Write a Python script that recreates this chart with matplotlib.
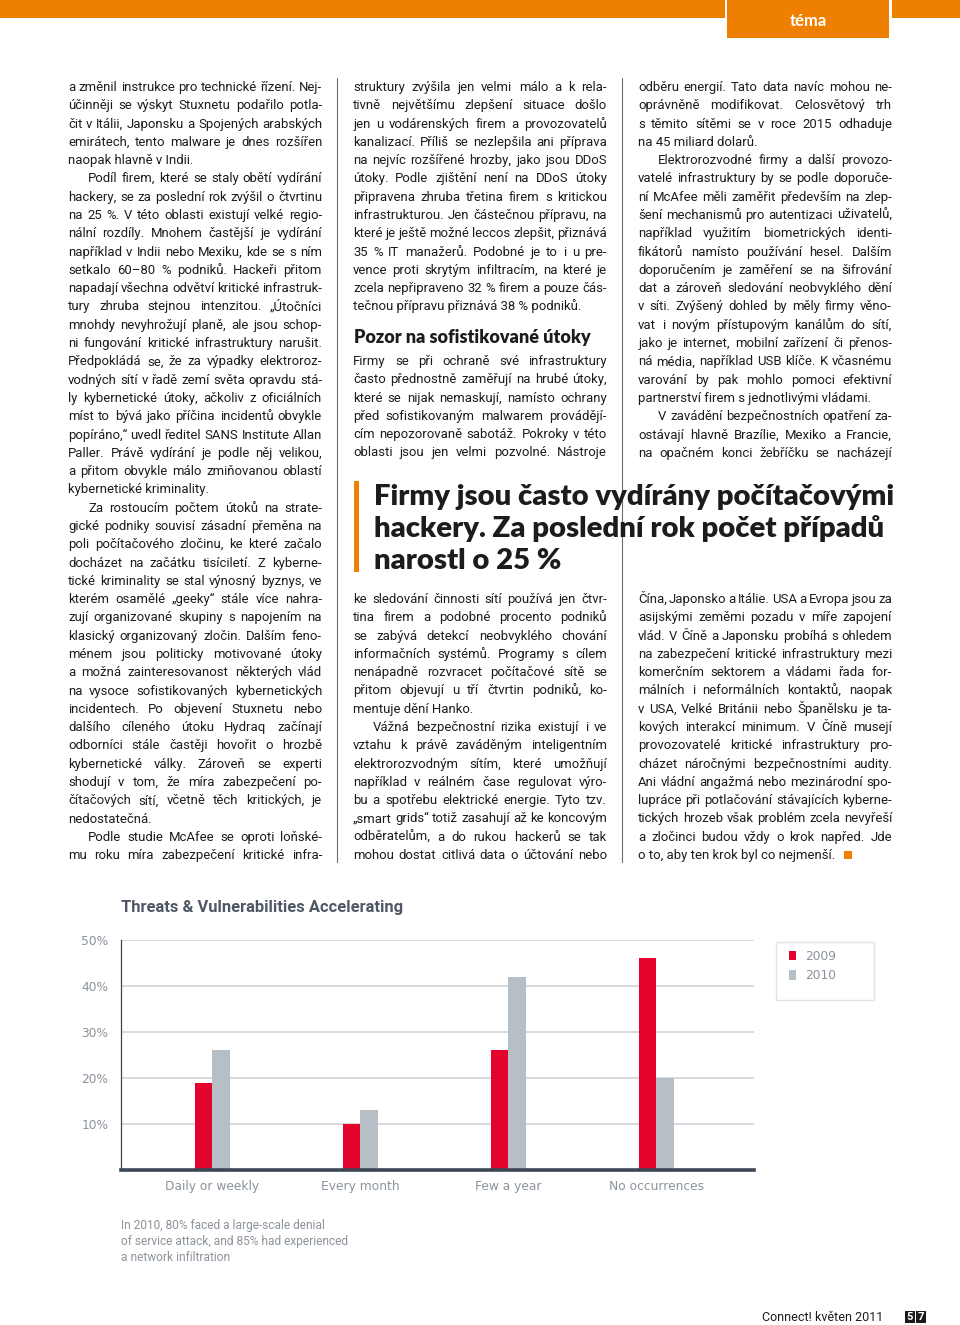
import matplotlib
matplotlib.use('Agg')
import numpy as np
import matplotlib.pyplot as plt
from matplotlib.font_manager import FontProperties
from matplotlib.patches import Rectangle

# --- chart data ---
categories = ['Daily or weekly', 'Every month', 'Few a year', 'No occurrences']
share_2009 = [19, 10, 26, 46]
share_2010 = [26, 13, 42, 20]
y_ticks = [10, 20, 30, 40, 50]
series_names = ['2009', '2010']
chart_title = 'Threats & Vulnerabilities Accelerating'
chart_note = ['In 2010, 80% faced a large-scale denial',
              'of service attack, and 85% had experienced',
              'a network infiltration']

# --- article text: (indented first line, lines, paragraph ends here) ---
col_left = [
    (False, ['a změnil instrukce pro technické řízení. Nej-',
             'účinněji se výskyt Stuxnetu podařilo potla-',
             'čit v Itálii, Japonsku a Spojených arabských',
             'emirátech, tento malware je dnes rozšířen',
             'naopak hlavně v Indii.'], True),
    (True, ['Podíl firem, které se staly obětí vydírání',
            'hackery, se za poslední rok zvýšil o čtvrtinu',
            'na 25 %. V této oblasti existují velké regio-',
            'nální rozdíly. Mnohem častější je vydírání',
            'například v Indii nebo Mexiku, kde se s ním',
            'setkalo 60–80 % podniků. Hackeři přitom',
            'napadají všechna odvětví kritické infrastruk-',
            'tury zhruba stejnou intenzitou. „Útočníci',
            'mnohdy nevyhrožují planě, ale jsou schop-',
            'ni fungování kritické infrastruktury narušit.',
            'Předpokládá se, že za výpadky elektroroz-',
            'vodných sítí v řadě zemí světa opravdu stá-',
            'ly kybernetické útoky, ačkoliv z oficiálních',
            'míst to bývá jako příčina incidentů obvykle',
            'popíráno,“ uvedl ředitel SANS Institute Allan',
            'Paller. Právě vydírání je podle něj velikou,',
            'a přitom obvykle málo zmiňovanou oblastí',
            'kybernetické kriminality.'], True),
    (True, ['Za rostoucím počtem útoků na strate-',
            'gické podniky souvisí zásadní přeměna na',
            'poli počítačového zločinu, ke které začalo',
            'docházet na začátku tisíciletí. Z kyberne-',
            'tické kriminality se stal výnosný byznys, ve',
            'kterém osamělé „geeky“ stále více nahra-',
            'zují organizované skupiny s napojením na',
            'klasický organizovaný zločin. Dalším feno-',
            'ménem jsou politicky motivované útoky',
            'a možná zainteresovanost některých vlád',
            'na vysoce sofistikovaných kybernetických',
            'incidentech. Po objevení Stuxnetu nebo',
            'dalšího cíleného útoku Hydraq začínají',
            'odborníci stále častěji hovořit o hrozbě',
            'kybernetické války. Zároveň se experti',
            'shodují v tom, že míra zabezpečení po-',
            'čítačových sítí, včetně těch kritických, je',
            'nedostatečná.'], True),
    (True, ['Podle studie McAfee se oproti loňské-',
            'mu roku míra zabezpečení kritické infra-'], False),
]
col_mid_top = [
    (False, ['struktury zvýšila jen velmi málo a k rela-',
             'tivně největšímu zlepšení situace došlo',
             'jen u vodárenských firem a provozovatelů',
             'kanalizací. Příliš se nezlepšila ani příprava',
             'na nejvíc rozšířené hrozby, jako jsou DDoS',
             'útoky. Podle zjištění není na DDoS útoky',
             'připravena zhruba třetina firem s kritickou',
             'infrastrukturou. Jen částečnou přípravu, na',
             'které je ještě možné leccos zlepšit, přiznává',
             '35 % IT manažerů. Podobné je to i u pre-',
             'vence proti skrytým infiltracím, na které je',
             'zcela nepřipraveno 32 % firem a pouze čás-',
             'tečnou přípravu přiznává 38 % podniků.'], True),
]
col_mid_sub = [
    (False, ['Firmy se při ochraně své infrastruktury',
             'často přednostně zaměřují na hrubé útoky,',
             'které se nijak nemaskují, namísto ochrany',
             'před sofistikovaným malwarem provádějí-',
             'cím nepozorovaně sabotáž. Pokroky v této',
             'oblasti jsou jen velmi pozvolné. Nástroje'], False),
]
col_mid_bottom = [
    (False, ['ke sledování činnosti sítí používá jen čtvr-',
             'tina firem a podobné procento podniků',
             'se zabývá detekcí neobvyklého chování',
             'informačních systémů. Programy s cílem',
             'nenápadně rozvracet počítačové sítě se',
             'přitom objevují u tří čtvrtin podniků, ko-',
             'mentuje dění Hanko.'], True),
    (True, ['Vážná bezpečnostní rizika existují i ve',
            'vztahu k právě zaváděným inteligentním',
            'elektrorozvodným sítím, které umožňují',
            'například v reálném čase regulovat výro-',
            'bu a spotřebu elektrické energie. Tyto tzv.',
            '„smart grids“ totiž zasahují až ke koncovým',
            'odběratelům, a do rukou hackerů se tak',
            'mohou dostat citlivá data o účtování nebo'], False),
]
col_right_top = [
    (False, ['odběru energií. Tato data navíc mohou ne-',
             'oprávněně modifikovat. Celosvětový trh',
             's těmito sítěmi se v roce 2015 odhaduje',
             'na 45 miliard dolarů.'], True),
    (True, ['Elektrorozvodné firmy a další provozo-',
            'vatelé infrastruktury by se podle doporuče-',
            'ní McAfee měli zaměřit především na zlep-',
            'šení mechanismů pro autentizaci uživatelů,',
            'například využitím biometrických identi-',
            'fikátorů namísto používání hesel. Dalším',
            'doporučením je zaměření se na šifrování',
            'dat a zároveň sledování neobvyklého dění',
            'v síti. Zvýšený dohled by měly firmy věno-',
            'vat i novým přístupovým kanálům do sítí,',
            'jako je internet, mobilní zařízení či přenos-',
            'ná média, například USB klíče. K včasnému',
            'varování by pak mohlo pomoci efektivní',
            'partnerství firem s jednotlivými vládami.'], True),
    (True, ['V zavádění bezpečnostních opatření za-',
            'ostávají hlavně Brazílie, Mexiko a Francie,',
            'na opačném konci žebříčku se nacházejí'], False),
]
col_right_bottom = [
    (False, ['Čína, Japonsko a Itálie. USA a Evropa jsou za',
             'asijskými zeměmi pozadu v míře zapojení',
             'vlád. V Číně a Japonsku probíhá s ohledem',
             'na zabezpečení kritické infrastruktury mezi',
             'komerčním sektorem a vládami řada for-',
             'málních i neformálních kontaktů, naopak',
             'v USA, Velké Británii nebo Španělsku je ta-',
             'kových interakcí minimum. V Číně musejí',
             'provozovatelé kritické infrastruktury pro-',
             'cházet náročnými bezpečnostními audity.',
             'Ani vládní angažmá nebo mezinárodní spo-',
             'lupráce při potlačování stávajících kyberne-',
             'tických hrozeb však problém zcela nevyřeší',
             'a zločinci budou vždy o krok napřed. Jde',
             'o to, aby ten krok byl co nejmenší.'], True),
]
headline = ['Firmy jsou často vydírány počítačovými',
            'hackery. Za poslední rok počet případů',
            'narostl o 25 %']
subhead = 'Pozor na sofistikované útoky'

ORANGE = '#ef7f00'
INK = '#1e1b1c'
RED = '#e3032c'
GREY = '#b6bec6'
BODY = 'Roboto'
HEAD = 'Lato'

fig = plt.figure(figsize=(9.6, 13.25), dpi=100)
page = fig.add_axes([0, 0, 1, 1])
page.set_xlim(0, 960)
page.set_ylim(1325, 0)
page.axis('off')
renderer = fig.canvas.get_renderer()


def tw(s, fp):
    w, h, d = renderer.get_text_width_height_descent(s, fp, ismath=False)
    return w


def flatten(paras):
    out = []
    for ind, lines, ends in paras:
        for k, s in enumerate(lines):
            out.append((s, 20 if (k == 0 and ind) else 0, ends and k == len(lines) - 1))
    return out


blocks = [(col_left, 68, 91), (col_mid_top, 353, 91), (col_mid_sub, 353, 365),
          (col_mid_bottom, 353, 603), (col_right_top, 638, 91), (col_right_bottom, 638, 603)]
W = 254
LH = 18.29

# one body size for all lines, so that the tightest line still fits
fp10 = FontProperties(family=BODY, size=10)
sp10 = tw('a a', fp10) - 2 * tw('a', fp10)
ratios = []
for paras, _, _ in blocks:
    for s, ind, last in flatten(paras):
        nat = sum(tw(w, fp10) for w in s.split()) + 0.7 * sp10 * (len(s.split()) - 1)
        ratios.append(10 * (W - ind) / nat)
size = min(min(ratios) * 0.995, 10)
fp = FontProperties(family=BODY, size=size)

last_end = None
for paras, x0, y0 in blocks:
    for i, (s, ind, last) in enumerate(flatten(paras)):
        y = y0 + i * LH
        words = s.split()
        if last:
            page.text(x0 + ind, y, s, fontproperties=fp, color=INK, va='baseline')
            last_end = (x0 + ind + tw(s, fp), y)
        else:
            ww = [tw(w, fp) for w in words]
            gap = (W - ind - sum(ww)) / max(len(words) - 1, 1)
            x = x0 + ind
            for w, wd in zip(words, ww):
                page.text(x, y, w, fontproperties=fp, color=INK, va='baseline')
                x += wd + gap

# closing square after the last paragraph
page.add_patch(Rectangle((last_end[0] + 9, last_end[1] - 8), 8, 8, color=ORANGE, lw=0))

# subheading
fph = FontProperties(family=HEAD, weight='heavy', size=12)
page.text(354, 343, subhead, color=INK, va='baseline',
          fontproperties=FontProperties(family=HEAD, weight='heavy',
                                        size=12 * 236 / tw(subhead, fph)))

# headline
fph = FontProperties(family=HEAD, weight='heavy', size=20)
hsize = 20 * 521 / tw(headline[0], fph)
for i, s in enumerate(headline):
    page.text(374, 505 + 32 * i, s, color=INK, va='baseline',
              fontproperties=FontProperties(family=HEAD, weight='heavy', size=hsize))
page.add_patch(Rectangle((354, 481), 5, 91, color=ORANGE, lw=0))

# column rules
page.plot([337, 337], [78, 862], color='#6d6e70', lw=0.8)
page.plot([622, 622], [78, 862], color='#6d6e70', lw=0.8)

# top bar and tab
page.add_patch(Rectangle((0, 0), 725, 18, color=ORANGE, lw=0))
page.add_patch(Rectangle((727, 0), 162, 38, color=ORANGE, lw=0))
page.add_patch(Rectangle((892, 0), 68, 18, color=ORANGE, lw=0))
page.text(808, 21, 'téma', color='white', ha='center', va='center',
          fontproperties=FontProperties(family=HEAD, weight='bold', size=12))

# footer
page.text(762, 1321, 'Connect! květen 2011', color=INK, va='baseline',
          fontproperties=FontProperties(family=BODY, size=9))
for k, dgt in enumerate('57'):
    page.add_patch(Rectangle((905 + 10.5 * k, 1311), 10, 12, color='#1a1a1a', lw=0))
    page.text(910 + 10.5 * k, 1317.5, dgt, color='white', ha='center', va='center',
              fontproperties=FontProperties(family=BODY, weight='bold', size=8))

# --- chart ---
LABEL = '#8b939c'
AXIS = '#3d4654'
page.text(121, 912, chart_title, color='#4e5865', va='baseline',
          fontproperties=FontProperties(family=BODY, weight='bold',
                                        size=10 * 282 / tw(chart_title, FontProperties(family=BODY, weight='bold', size=10))))
for i, s in enumerate(chart_note):
    page.text(121, 1229 + 16 * i, s, color=LABEL, va='baseline',
              fontproperties=FontProperties(family=BODY, size=8.6))
page.add_patch(Rectangle((776, 942), 98, 58, facecolor='none', edgecolor='#e1e4e7', lw=1))

ax = fig.add_axes([121 / 960, 1 - 1170 / 1325, 633 / 960, 230 / 1325])
ax.patch.set_alpha(0)
x = np.arange(len(categories))
bw = 0.118
b1 = ax.bar(x - bw / 2, share_2009, bw, color=RED, label=series_names[0])
b2 = ax.bar(x + bw / 2, share_2010, bw, color=GREY, label=series_names[1])
ax.set_xlim(-0.615, 3.66)
ax.set_ylim(0, 50)
ax.set_yticks(y_ticks)
ax.set_yticklabels([f'{t}%' for t in y_ticks])
ax.set_xticks(x)
ax.set_xticklabels(categories)
ax.yaxis.grid(True, color='#d3d8dd', lw=1.3)
ax.set_axisbelow(True)
for s in ['top', 'right']:
    ax.spines[s].set_visible(False)
ax.spines['left'].set_color(AXIS)
ax.spines['left'].set_linewidth(0.9)
ax.spines['bottom'].set_color(AXIS)
ax.spines['bottom'].set_linewidth(2.6)
ax.tick_params(axis='both', length=0, labelcolor=LABEL, labelsize=8.8)
ax.tick_params(axis='y', pad=9)
ax.tick_params(axis='x', pad=7)
fig.legend(handles=[b1, b2], loc='upper left', bbox_to_anchor=(789 / 960, 1 - 950 / 1325),
           frameon=False, fontsize=8.8, labelcolor=LABEL, handlelength=0.6, handleheight=0.8,
           handletextpad=0.7, labelspacing=0.5, borderaxespad=0, borderpad=0)

fig.savefig('out.png', dpi=100, facecolor='white')
